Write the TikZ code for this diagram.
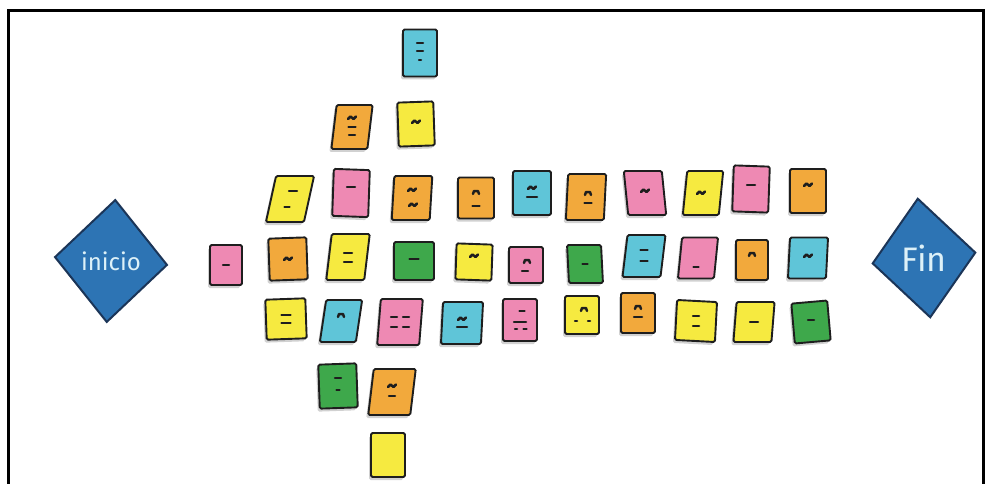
\documentclass[tikz,border=0pt]{standalone}
\usepackage{fontspec}
\setmainfont{Fira Sans}
\usetikzlibrary{shapes.geometric,shadows}
\definecolor{yel}{HTML}{F6EA40}
\definecolor{org}{HTML}{F2A93C}
\definecolor{pnk}{HTML}{EE89B3}
\definecolor{blu}{HTML}{5FC5D8}
\definecolor{grn}{HTML}{3EA84B}
\definecolor{ink}{HTML}{1E1E1E}
\definecolor{dfill}{HTML}{2D74B4}
\definecolor{dline}{HTML}{1B3558}
\definecolor{dtext}{HTML}{DDF1F8}
\tikzset{
  note/.style={draw=ink, line width=1.9pt, rounded corners=1.5pt, inner sep=0pt,
    drop shadow={shadow xshift=-2pt, shadow yshift=-3pt, opacity=0.18, fill=black}},
  mk/.style={draw=ink, line width=2.5pt, line cap=round, line join=round},
  dmd/.style={diamond, draw=dline, fill=dfill, line width=2pt, inner sep=0pt},
  dtxt/.style={text=dtext, inner sep=0pt},
  frame/.style={draw=black, line width=3pt}
}
\newcommand\note[7]{\node[note, fill=#4, minimum width=#5pt, minimum height=#6pt, #7] (#1) at (#2,#3) {};}
\newcommand\dsh[4]{\draw[mk] ([shift={(#2-#4/2,#3)}]#1.center) -- ++(#4,0);}
\newcommand\tld[3]{\draw[mk] ([shift={(#2-4,#3+1)}]#1.center) -- ++(2.5,-2.5) -- ++(3,2.5) -- ++(2.5,-2.5);}
\newcommand\arcm[3]{\draw[mk] ([shift={(#2-3,#3+2)}]#1.center) -- ++(1,-3) -- ++(4,0) -- ++(1,3);}
\begin{document}
\begin{tikzpicture}[x=1pt,y=-1pt]
\useasboundingbox (0,0) rectangle (985,484);
\fill[white] (0,0) rectangle (985,484);
\draw[frame] (8.5,484) -- (8.5,10.5) -- (985,10.5);
\draw[frame] (983.5,10.5) -- (983.5,484);

% diamonds
\node[dmd, minimum width=113pt, minimum height=123pt, rotate=-4] (ini) at (111,261) {};
\node[dtxt, font=\fontsize{24}{24}\selectfont] (initxt) at (ini.center) {inicio};
\node[dmd, minimum width=104pt, minimum height=120pt, rotate=6] (fin) at (924,258) {};
\node[dtxt, font=\fontsize{34}{34}\selectfont] (fintxt) at (fin.center) {Fin};

% top column
\note{t1}{420}{53}{blu}{34}{47}{}
\note{t2}{352}{127}{org}{36}{44}{xslant=0.12}
\note{t3}{416}{124}{yel}{36}{44}{rotate=2}
% row 1
\note{a1}{290}{199}{yel}{38}{46}{xslant=0.22}
\note{a2}{351}{193}{pnk}{36}{47}{rotate=-2}
\note{a3}{412}{198}{org}{38}{44}{xslant=0.06}
\note{a4}{476}{198}{org}{36}{41}{}
\note{a5}{532}{193}{blu}{38}{44}{}
\note{a6}{586}{197}{org}{38}{46}{xslant=0.05}
\note{a7}{645}{193}{pnk}{38}{44}{xslant=-0.1}
\note{a8}{703}{193}{yel}{36}{44}{xslant=0.1}
\note{a9}{751}{189}{pnk}{36}{46}{rotate=-2}
\note{a10}{808}{191}{org}{36}{44}{}
% row 2
\note{b1}{226}{265}{pnk}{32}{40}{}
\note{b2}{288}{259}{org}{38}{42}{rotate=2}
\note{b3}{348}{257}{yel}{38}{46}{xslant=0.12}
\note{b4}{414}{261}{grn}{40}{38}{}
\note{b5}{474}{262}{yel}{36}{36}{rotate=-2}
\note{b6}{526}{265}{pnk}{34}{36}{}
\note{b7}{585}{264}{grn}{34}{38}{xslant=-0.05}
\note{b8}{644}{256}{blu}{38}{42}{xslant=0.12}
\note{b9}{698}{258}{pnk}{36}{41}{xslant=0.1}
\note{b10}{752}{260}{org}{32}{40}{}
\note{b11}{808}{258}{blu}{38}{41}{xslant=0.05}
% row 3
\note{c1}{286}{319}{yel}{40}{40}{rotate=2}
\note{c2}{341}{321}{blu}{36}{42}{xslant=0.15}
\note{c3}{400}{322}{pnk}{42}{46}{xslant=0.08}
\note{c4}{462}{323}{blu}{40}{42}{xslant=0.05}
\note{c5}{520}{320}{pnk}{34}{42}{}
\note{c6}{582}{315}{yel}{34}{38}{}
\note{c7}{638}{313}{org}{34}{40}{}
\note{c8}{696}{321}{yel}{40}{40}{rotate=-3}
\note{c9}{754}{322}{yel}{38}{40}{xslant=0.08}
\note{c10}{811}{322}{grn}{36}{40}{rotate=5}
% bottom
\note{d1}{338}{386}{grn}{38}{44}{rotate=2}
\note{d2}{392}{392}{org}{42}{46}{xslant=0.12}
\note{d3}{388}{455}{yel}{34}{44}{}

% marks
\dsh{t1}{0}{-10}{6} \dsh{t1}{0}{-2}{6} \dsh{t1}{0}{7}{2}
\tld{t2}{0}{-9} \dsh{t2}{0}{0}{7} \dsh{t2}{0}{8}{6}
\tld{t3}{0}{-2}
\dsh{a1}{3}{-8}{8} \dsh{a1}{-3}{8}{5}
\dsh{a2}{0}{-6}{8}
\tld{a3}{0}{-8} \tld{a3}{1}{7}
\arcm{a4}{0}{-6} \dsh{a4}{0}{8}{7}
\tld{a5}{0}{-5} \dsh{a5}{0}{4}{10}
\arcm{a6}{2}{-4} \dsh{a6}{2}{6}{7}
\tld{a7}{0}{-2}
\tld{a8}{-2}{0}
\dsh{a9}{0}{-4}{8}
\tld{a10}{0}{-6}
\dsh{b1}{0}{0}{6}
\tld{b2}{0}{0}
\dsh{b3}{0}{-4}{8} \dsh{b3}{0}{5}{8}
\dsh{b4}{0}{-2}{9}
\tld{b5}{0}{-6}
\arcm{b6}{1}{-4} \dsh{b6}{-1}{6}{6}
\dsh{b7}{0}{0}{5}
\dsh{b8}{0}{-6}{7} \dsh{b8}{0}{5}{7}
\dsh{b9}{-2}{9}{5}
\arcm{b10}{0}{-6}
\tld{b11}{0}{-2}
\dsh{c1}{0}{-4}{9} \dsh{c1}{0}{4}{9}
\arcm{c2}{0}{-6}
\dsh{c3}{-6}{-5}{6} \dsh{c3}{6}{-5}{6} \dsh{c3}{-6}{5}{6} \dsh{c3}{6}{5}{6}
\tld{c4}{0}{-4} \dsh{c4}{0}{4}{10}
\dsh{c5}{2}{-9}{5} \dsh{c5}{0}{2}{12} \dsh{c5}{-4}{9}{2} \dsh{c5}{5}{9}{3}
\arcm{c6}{2}{-6} \dsh{c6}{-6}{6}{2} \dsh{c6}{7}{6}{2}
\arcm{c7}{0}{-6} \dsh{c7}{0}{4}{8}
\dsh{c8}{0}{-5}{6} \dsh{c8}{0}{5}{6}
\dsh{c9}{0}{0}{8}
\dsh{c10}{0}{-2}{6}
\dsh{d1}{0}{-8}{6} \dsh{d1}{0}{4}{3}
\tld{d2}{0}{-6} \dsh{d2}{0}{4}{6}
\end{tikzpicture}
\end{document}
